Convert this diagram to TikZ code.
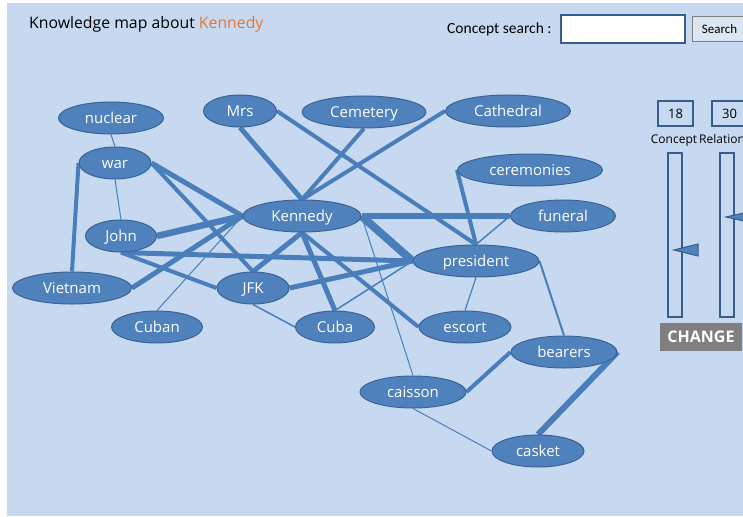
\documentclass[tikz,border=0pt]{standalone}
\usepackage{fontspec}
\setmainfont{Open Sans}
\newfontfamily\calibri{Carlito}
\usetikzlibrary{shapes.geometric,backgrounds}

\definecolor{panelbg}{HTML}{C6D9F0}
\definecolor{nodefill}{HTML}{4F81BD}
\definecolor{nodeline}{HTML}{3A6391}
\definecolor{linkcol}{HTML}{4A7EBB}
\definecolor{uiline}{HTML}{385D8A}
\definecolor{kwcol}{HTML}{E6772E}
\definecolor{btngray}{HTML}{7F7F7F}
\definecolor{btnfill}{HTML}{DCE6F2}

\begin{document}
\begin{tikzpicture}[x=1pt, y=-1pt, font=\fontsize{15}{18}\selectfont]
      \tikzset{concept/.style={ellipse, draw=nodeline, fill=nodefill, text=white, line width=1pt, inner sep=0pt, minimum height=32pt, text height=13.5pt, text depth=2pt},
               link/.style={draw=linkcol, line width=#1pt},
               uibox/.style={draw=uiline, line width=1.3pt, inner sep=0pt},
               label/.style={inner sep=0pt}}
      \clip (0,0) rectangle (743,516);

      % header
      \node[label, anchor=base west, font=\fontsize{15.8}{18}\selectfont] (title) at (29,29) {Knowledge map about \textcolor{kwcol}{Kennedy}};
      \node[label, anchor=base west, font=\calibri\fontsize{15.5}{18}\selectfont] (searchlbl) at (447,34) {Concept search :};
      \node[uibox, fill=white, minimum width=124pt, minimum height=28pt] (searchfield) at (623,29) {};
      \node[uibox, draw=btngray, fill=btnfill, line width=1pt, minimum width=55pt, minimum height=25pt, font=\calibri\fontsize{13}{15}\selectfont] (searchbtn) at (719.5,29.5) {Search};

      % concepts
      \node[concept, minimum width=105pt] (nuclear) at (111,118) {nuclear};
      \node[concept, minimum width=72pt] (war) at (115,163) {war};
      \node[concept, minimum width=71pt] (john) at (121,236) {John};
      \node[concept, minimum width=119pt] (vietnam) at (72,288) {Vietnam};
      \node[concept, minimum width=91pt] (cuban) at (157,327) {Cuban};
      \node[concept, minimum width=72pt] (jfk) at (253,288) {JFK};
      \node[concept, minimum width=118pt] (kennedy) at (302,216) {Kennedy};
      \node[concept, minimum width=73pt] (mrs) at (240,111) {Mrs};
      \node[concept, minimum width=124pt] (cemetery) at (364,112) {Cemetery};
      \node[concept, minimum width=125pt] (cathedral) at (508,111) {Cathedral};
      \node[concept, minimum width=145pt] (ceremonies) at (530,170) {ceremonies};
      \node[concept, minimum width=105pt] (funeral) at (563,216) {funeral};
      \node[concept, minimum width=126pt] (president) at (476,261) {president};
      \node[concept, minimum width=92pt] (escort) at (465,327) {escort};
      \node[concept, minimum width=79pt] (cuba) at (335,327) {Cuba};
      \node[concept, minimum width=106pt] (bearers) at (564,352) {bearers};
      \node[concept, minimum width=106pt] (caisson) at (413,392) {caisson};
      \node[concept, minimum width=92pt] (casket) at (538,451) {casket};

      \begin{scope}[on background layer]
        \fill[white] (0,0) rectangle (743,516);
        \fill[panelbg] (7,3) rectangle (743,516);
        \draw[link=1] (nuclear.south) -- (war.north);
        \draw[link=4] (war.west) -- (vietnam.north);
        \draw[link=1] (war.south) -- (john.north);
        \draw[link=5] (war.east) -- (kennedy.west);
        \draw[link=4] (war.east) -- (jfk.north);
        \draw[link=6.5] (john.east) -- (kennedy.west);
        \draw[link=5] (john.south) -- (president.west);
        \draw[link=4] (john.south) -- (jfk.west);
        \draw[link=5] (vietnam.east) -- (kennedy.west);
        \draw[link=1] (cuban.north) -- (kennedy.west);
        \draw[link=5] (jfk.north) -- (kennedy.south);
        \draw[link=5] (jfk.east) -- (president.west);
        \draw[link=1.5] (jfk.south) -- (cuba.west);
        \draw[link=5] (kennedy.south) -- (cuba.north);
        \draw[link=4] (kennedy.south) -- (escort.west);
        \draw[link=8] (kennedy.east) -- (president.west);
        \draw[link=6] (kennedy.east) -- (funeral.west);
        \draw[link=5] (mrs.south) -- (kennedy.north);
        \draw[link=4] (cemetery.south) -- (kennedy.north);
        \draw[link=4] (cathedral.west) -- (kennedy.north);
        \draw[link=1] (kennedy.east) -- (caisson.north);
        \draw[link=4] (mrs.east) -- (president.north);
        \draw[link=4] (ceremonies.west) -- (president.north);
        \draw[link=1.5] (funeral.west) -- (president.north);
        \draw[link=1.2] (president.south) -- (escort.north);
        \draw[link=2] (president.east) -- (bearers.north);
        \draw[link=1.5] (cuba.north) -- (president.west);
        \draw[link=4] (caisson.east) -- (bearers.west);
        \draw[link=6] (bearers.east) -- (casket.north);
        \draw[link=1] (caisson.south) -- (casket.west);
      \end{scope}

      % controls
      \node[uibox, minimum width=35pt, minimum height=25pt, font=\fontsize{13}{15}\selectfont] (nconcept) at (675.5,113.5) {18};
      \node[uibox, minimum width=35pt, minimum height=25pt, font=\fontsize{13}{15}\selectfont] (nrelation) at (729.5,113.5) {30};
      \node[label, anchor=base, font=\fontsize{12}{14}\selectfont] (lconcept) at (674,143) {Concept};
      \node[label, anchor=base west, font=\fontsize{12}{14}\selectfont] (lrelation) at (699,143) {Relation};
      \draw[uiline, line width=1.3pt] (668,153) rectangle (682,317);
      \draw[uiline, line width=1.3pt] (720,153) rectangle (734,317);
      \draw[uiline, fill=nodefill, line width=1pt] (674,250) -- (698,244) -- (698,256) -- cycle;
      \draw[uiline, fill=nodefill, line width=1pt] (726,217) -- (752,211) -- (752,223) -- cycle;
      \node[fill=btngray, text=white, minimum width=82pt, minimum height=28pt, inner sep=0pt, font=\bfseries\fontsize{16}{18}\selectfont] (change) at (701,337) {CHANGE};
    \end{tikzpicture}
\end{document}
